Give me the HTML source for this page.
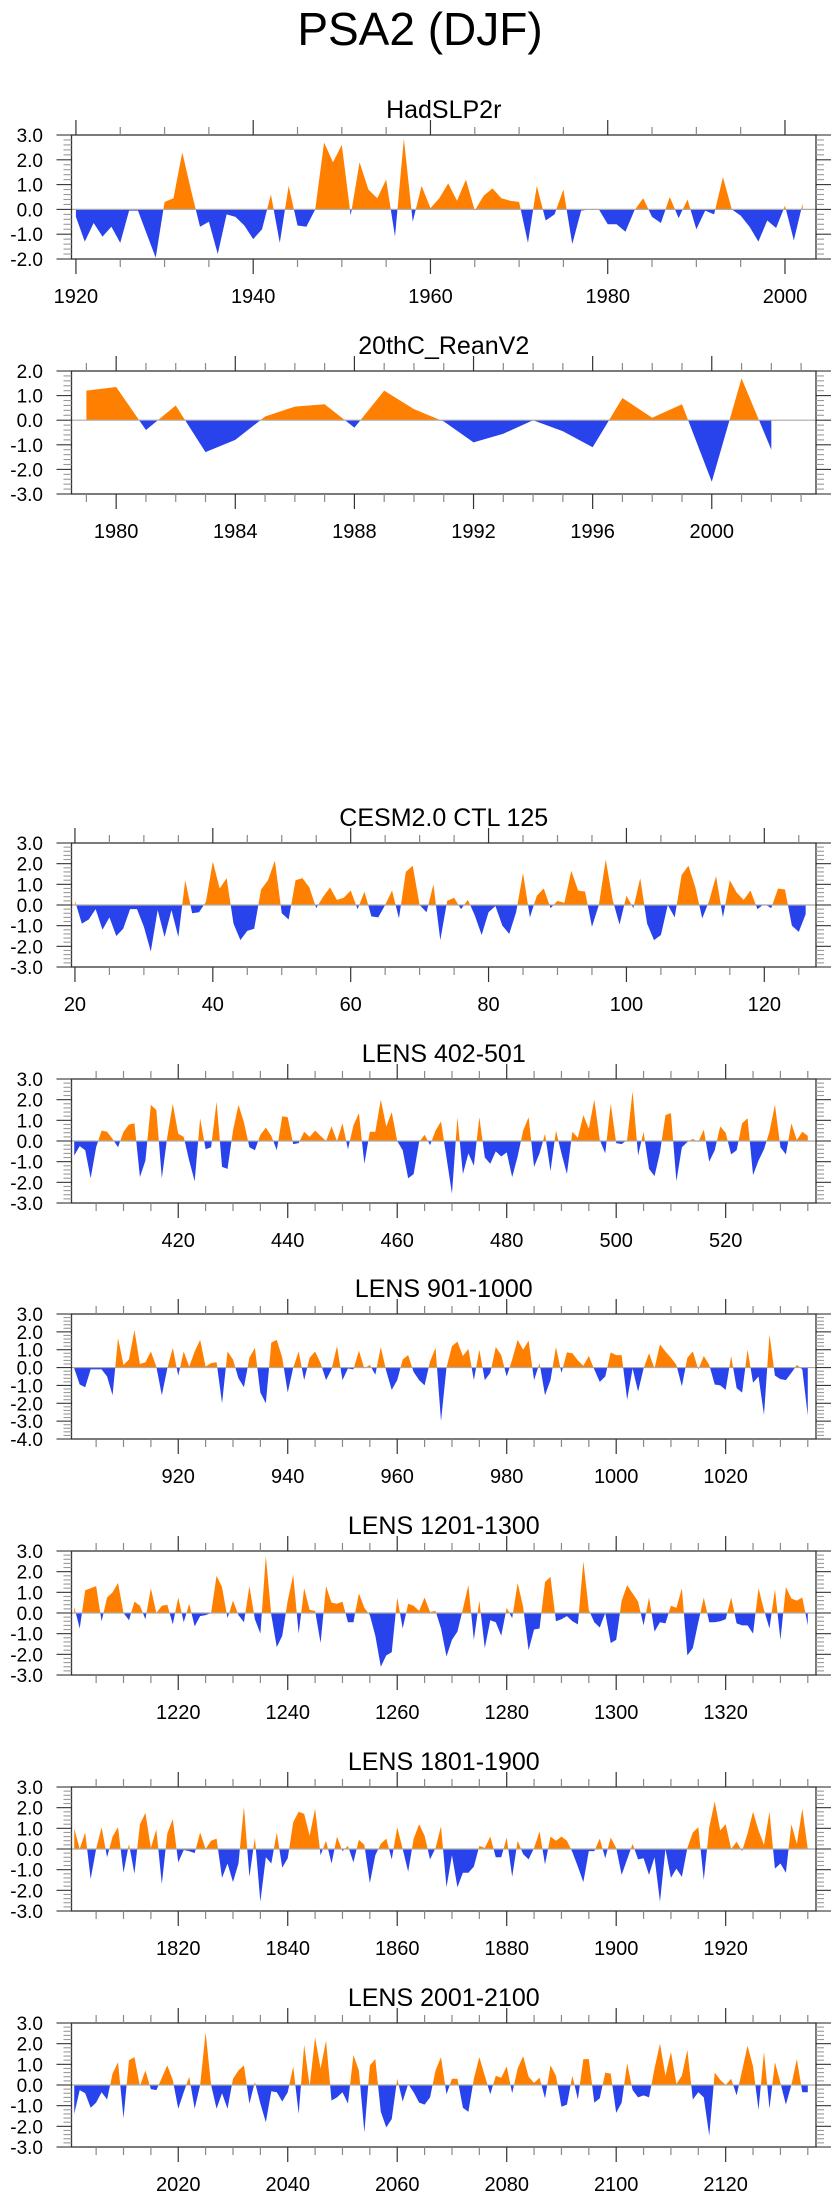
<!DOCTYPE html>
<html><head><meta charset="utf-8"><style>
html,body{margin:0;padding:0;background:#fff;}
svg{display:block;font-family:"Liberation Sans",Arial,sans-serif;}
</style></head><body>
<svg id="chart" width="840" height="2200" viewBox="0 0 840 2200" xmlns="http://www.w3.org/2000/svg">
<text x="420" y="45" text-anchor="middle" font-size="46">PSA2 (DJF)</text>
</svg>
<script>
const hadslpYears=[1920,2002];
const hadslpValues=[-0.3,-1.3,-0.55,-1.1,-0.7,-1.35,-0.05,-0.05,-1.0,-1.95,0.3,0.45,2.3,0.75,-0.7,-0.5,-1.8,-0.2,-0.3,-0.65,-1.2,-0.8,0.6,-1.35,0.95,-0.65,-0.7,0.0,2.7,1.9,2.6,-0.25,1.9,0.8,0.45,1.2,-1.1,2.85,-0.5,0.95,0.05,0.45,1.05,0.35,1.2,-0.05,0.55,0.85,0.45,0.35,0.3,-1.35,0.95,-0.45,-0.2,0.8,-1.4,-0.05,0,0,-0.6,-0.6,-0.9,-0.05,0.45,-0.3,-0.55,0.5,-0.35,0.4,-0.8,-0.05,-0.2,1.3,0,-0.25,-0.7,-1.3,-0.45,-0.75,0.15,-1.25,0.25];
const reanYears=[1979,2002];
const reanValues=[1.2,1.35,-0.4,0.6,-1.3,-0.8,0.15,0.55,0.65,-0.3,1.2,0.45,-0.05,-0.9,-0.55,0,-0.45,-1.1,0.9,0.1,0.65,-2.5,1.7,-1.2];
const cesmYears=[20,126];
const cesmValues=[0.2,-0.9,-0.7,-0.2,-1.2,-0.6,-1.5,-1.15,-0.2,-0.2,-1.05,-2.25,-0.25,-1.55,-0.25,-1.55,1.2,-0.4,-0.35,0.15,2.1,0.8,1.3,-0.9,-1.7,-1.25,-1.15,0.75,1.2,2.15,-0.4,-0.7,1.2,1.3,0.85,-0.15,0.4,0.85,0.25,0.35,0.7,-0.2,0.65,-0.55,-0.6,0,0.7,-0.65,1.6,1.9,0,-0.35,1.0,-1.7,0.2,0.35,-0.2,0.25,-0.5,-1.45,-0.35,-0.05,-1.0,-1.4,-0.35,1.55,-0.6,0.45,0.8,-0.15,0.2,0.1,1.65,0.7,0.65,-1.05,0,2.2,0.25,-0.95,0.45,-0.15,1.3,-0.9,-1.7,-1.45,0,-0.6,1.45,1.9,0.85,-0.65,0.2,1.4,-0.6,1.2,0.6,0.25,0.7,-0.2,0.05,-0.15,0.8,0.75,-1.0,-1.3,-0.45];
const lens402Years=[401,535];
const lens402Values=[-0.7,-0.25,-0.45,-1.8,-0.3,0.5,0.45,0.1,-0.3,0.45,0.8,0.85,-1.75,-0.95,1.75,1.5,-1.8,0.2,1.8,0.35,0.2,-0.95,-1.95,1.1,-0.4,-0.3,1.9,-1.25,-1.35,0.5,1.75,0.9,-0.3,-0.45,0.3,0.65,0.25,-0.45,1.2,1.15,-0.15,-0.1,0.45,0.2,0.5,0.25,0,0.7,0,0.85,-0.4,0.75,1.35,-1.1,0.45,0.45,2.0,0.7,1.4,0,-0.45,-1.8,-1.6,-0.05,0.3,-0.2,0.5,0.95,-0.8,-2.55,1.15,-1.6,-0.6,-1.2,1.15,-0.8,-1.1,-0.5,-0.75,-0.55,-1.75,-0.75,0.5,1.15,-1.25,-0.6,0.35,-1.45,0.5,-0.6,-1.6,0.45,0.15,1.25,0.6,2.0,0.05,-0.6,1.8,-0.1,-0.15,0.05,2.4,-0.7,0.45,-1.35,-1.7,-0.55,1.25,1.35,-1.95,-0.3,-0.05,0.1,-0.05,0.55,-1.0,-0.45,0.7,0.4,-0.65,-0.45,0.85,1.1,-1.65,-0.95,-0.4,0.45,1.75,-0.3,-0.65,0.85,0.05,0.45,0.25];
const lens901Years=[901,1035];
const lens901Values=[-0.05,-0.95,-1.1,-0.1,-0.1,-0.1,-0.5,-1.55,1.65,0.15,0.45,2.1,0.2,0.3,0.9,0.05,-1.55,-0.05,1.1,-0.45,0.9,0.05,0.9,1.55,0.05,0.25,0.3,-2.0,0.9,0.45,-0.6,-1.1,0.55,1.1,-1.4,-2.0,1.4,1.55,0.55,-1.4,0,0.9,-0.7,0.55,0.9,0.25,-0.7,-0.1,1.2,-0.7,-0.05,-0.1,0.95,-0.05,0.15,-0.4,1.15,-0.2,-1.25,-0.7,0.45,0.7,-0.25,-0.7,-1.0,0.35,1.1,-3.0,0,1.2,1.45,0.65,1.05,-0.7,1.0,-0.7,-0.3,1.15,0.7,-0.5,0.45,1.55,1.0,1.5,-0.7,0.25,-1.55,-0.7,1.15,-0.3,0.85,0.8,0.4,0.1,0.65,-0.1,-0.8,-0.5,0.85,0.7,0.7,-1.8,-0.05,-1.35,-0.05,0.8,-0.05,1.3,0.9,0.55,0.15,-1.05,0.55,0.9,-0.1,0.65,0.15,-0.95,-1.0,-1.25,0.65,-1.15,-1.4,1.0,-0.85,-0.5,-2.65,1.85,-0.45,-0.65,-0.7,-0.3,0.15,-0.1,-2.7];
const lens1201Years=[1201,1335];
const lens1201Values=[0.3,-0.75,1.1,1.2,1.3,-0.4,0.75,1.0,1.45,0,-0.35,0.55,0.35,-0.3,1.2,0,0.35,0.4,-0.55,0.75,-0.45,0.45,-0.65,-0.15,-0.1,0,1.8,1.25,-0.25,0.6,-0.1,-0.45,1.3,-0.3,-1.0,2.75,-0.1,-1.65,-1.1,0.6,1.85,-1.0,1.2,0.15,0.1,-1.45,1.3,0.5,0.45,0.55,-0.45,-0.45,0.95,0.25,-0.1,-1.1,-2.6,-2.05,-1.9,0.75,-0.75,0.45,0.35,0.1,0.75,0.05,0.1,-0.75,-2.1,-1.3,-0.9,0.2,1.35,-1.3,0.6,-1.7,-0.35,-0.45,-1.1,0.25,-0.25,1.45,0.3,-1.8,-0.8,-0.75,1.5,1.75,-0.4,-0.3,-0.15,-0.4,-0.55,2.5,0.15,-0.45,-0.7,0,-1.45,-1.3,0.6,1.35,0.95,0.55,-0.6,0.75,-0.9,-0.45,-0.5,0.35,0.25,1.2,-2.05,-1.7,-0.45,0.75,-0.45,-0.45,-0.4,-0.3,0.75,-0.5,-0.6,-0.6,-1.0,1.2,0.15,-0.75,1.15,-1.3,1.25,0.7,0.6,0.75,-0.6];
const lens1801Years=[1801,1935];
const lens1801Values=[1.0,0,0.8,-1.45,0,1.05,-0.4,0.6,1.05,-1.15,0.25,-1.2,1.2,1.75,0.05,0.95,-1.7,0.75,1.45,-0.65,-0.05,-0.1,-0.2,0.8,0,0.4,0.5,-1.4,-0.7,-1.6,-0.7,2.05,-1.35,0.55,-2.55,-0.4,-0.7,0.8,-0.9,-0.45,1.3,1.8,1.7,0.65,1.95,-0.3,0.4,-0.7,0.6,-0.1,0.15,-0.65,0.45,0.2,-1.65,-0.3,0.25,0.5,-0.5,1.05,0,-1.1,0.5,1.2,0.65,-0.5,0.05,1.1,-1.85,-0.3,-1.85,-1.15,-1.15,-0.85,0.15,0.05,0.6,-0.4,-0.4,0.55,-1.35,0.4,-0.25,-0.5,0.05,0.85,-0.75,0.6,0.4,0.6,0.4,-0.15,-0.85,-1.6,-0.1,-0.1,0.5,-0.45,0.55,0.05,-1.25,-0.5,0.25,-0.5,-0.45,-1.25,-0.4,-2.55,0,-1.4,-0.95,-1.35,0.05,0.8,1.05,-1.5,1.05,2.3,0.9,1.2,0,0.35,-0.1,0.75,1.8,0.9,0.2,1.8,-0.95,-0.7,-1.15,1.2,0.25,1.95,0];
const lens2001Years=[2001,2135];
const lens2001Values=[-1.4,-0.25,-0.4,-1.1,-0.85,-0.35,-0.7,0.55,1.1,-1.6,1.2,1.35,-0.05,0.7,-0.2,-0.25,0.35,0.95,0.25,-1.15,-0.35,0.4,-1.15,0,2.55,0,-1.15,-0.4,-1.15,0.3,0.7,0.95,-0.9,0.15,-0.9,-1.8,-0.3,-0.35,-0.8,-0.35,0.9,-1.4,1.95,-0.05,2.3,0.8,2.15,-0.75,-0.6,-0.35,-0.9,1.45,0.7,-2.3,0.95,1.25,-1.3,-2.05,-1.65,0.3,-0.8,0.05,-0.35,-0.85,-0.95,-0.6,0.7,1.35,-0.45,0.3,0.3,-1.1,-1.3,0.3,1.35,0.45,-0.45,0.45,0.35,0.9,-0.4,0.8,1.4,0.4,0.1,0.35,-0.65,0.95,0.45,-1.05,-0.95,0.45,-0.7,1.25,1.25,-0.85,-0.65,0.6,0.55,-1.35,-0.85,1.05,-0.25,-0.6,-0.5,-0.6,0.8,2.0,0.45,1.6,0.05,0.45,1.7,-0.7,-0.35,-0.6,-2.45,0.6,0.25,0,0.3,-0.5,0.7,1.9,0.9,-1.2,1.6,-1.15,1.1,0.1,-0.95,0,1.25,-0.35,-0.35];

const NS='http://www.w3.org/2000/svg';
const svg=document.getElementById('chart');
const BL=71.5,BR=816;
const panels=[
 {name:'hadslp2r',title:'HadSLP2r',top:135,bot:259,x0:1919.5,x1:2003.5,y0:-2,y1:3,years:hadslpYears,vals:hadslpValues,major:20,minor:5,mfirst:1920},
 {name:'20thc-reanv2',title:'20thC_ReanV2',top:371,bot:494,x0:1978.5,x1:2003.5,y0:-3,y1:2,years:reanYears,vals:reanValues,major:4,minor:1,mfirst:1980},
 {name:'cesm2-ctl',title:'CESM2.0 CTL 125',top:843,bot:967,x0:19.5,x1:127.5,y0:-3,y1:3,years:cesmYears,vals:cesmValues,major:20,minor:5,mfirst:20},
 {name:'lens-402-501',title:'LENS 402-501',top:1079,bot:1203,x0:400.5,x1:536.5,y0:-3,y1:3,years:lens402Years,vals:lens402Values,major:20,minor:5,mfirst:420},
 {name:'lens-901-1000',title:'LENS 901-1000',top:1314,bot:1439,x0:900.5,x1:1036.5,y0:-4,y1:3,years:lens901Years,vals:lens901Values,major:20,minor:5,mfirst:920},
 {name:'lens-1201-1300',title:'LENS 1201-1300',top:1551,bot:1675,x0:1200.5,x1:1336.5,y0:-3,y1:3,years:lens1201Years,vals:lens1201Values,major:20,minor:5,mfirst:1220},
 {name:'lens-1801-1900',title:'LENS 1801-1900',top:1787,bot:1911,x0:1800.5,x1:1936.5,y0:-3,y1:3,years:lens1801Years,vals:lens1801Values,major:20,minor:5,mfirst:1820},
 {name:'lens-2001-2100',title:'LENS 2001-2100',top:2023,bot:2147,x0:2000.5,x1:2136.5,y0:-3,y1:3,years:lens2001Years,vals:lens2001Values,major:20,minor:5,mfirst:2020}
];
function mk(tag,attrs,parent){const e=document.createElementNS(NS,tag);for(const k in attrs)e.setAttribute(k,attrs[k]);(parent||svg).appendChild(e);return e;}
panels.forEach(p=>{
 const g=mk('g',{});
 
 
 const X=v=>BL+(v-p.x0)/(p.x1-p.x0)*(BR-BL);
 const Y=v=>p.bot-(v-p.y0)/(p.y1-p.y0)*(p.bot-p.top);
 const t=mk('text',{x:(BL+BR)/2,y:p.top-17,'text-anchor':'middle','font-size':25},g);
 t.textContent=p.title;
 
 
 const pts=[];
 for(let i=0;i<p.vals.length;i++){
  const yr=p.years[0]+i,v=p.vals[i];
  if(i>0){const pv=p.vals[i-1];if((pv>0&&v<0)||(pv<0&&v>0)){const f=pv/(pv-v);pts.push([yr-1+f,0]);}}
  pts.push([yr,v]);
 }
 const first=pts[0][0],last=pts[pts.length-1][0];
 function poly(fn,color,nm){
  let d='M'+X(first)+','+Y(0);
  pts.forEach(q=>{d+=' L'+X(q[0]).toFixed(2)+','+Y(fn(q[1])).toFixed(2);});
  d+=' L'+X(last)+','+Y(0)+' Z';
  const e=mk('path',{d:d,fill:color,stroke:'none'},g);
  
  
 }
 poly(v=>Math.max(v,0),'#ff8000','positive-area');
 poly(v=>Math.min(v,0),'#2843ec','negative-area');
 const zl=mk('line',{x1:BL,x2:BR,y1:Y(0),y2:Y(0),stroke:'#aaaaaa','stroke-width':1.2},g);
 
 
 const box=mk('rect',{x:BL,y:p.top,width:BR-BL,height:p.bot-p.top,fill:'none',stroke:'#333','stroke-width':1.3},g);
 
 
 for(let v=Math.ceil(p.x0/p.minor)*p.minor;v<=p.x1;v+=p.minor){
  const isMaj=((v-p.mfirst)%p.major===0);
  const L=isMaj?15:8,x=X(v);
  mk('line',{x1:x,x2:x,y1:p.top,y2:p.top-L,stroke:isMaj?'#333':'#888','stroke-width':1.2},g);
  mk('line',{x1:x,x2:x,y1:p.bot,y2:p.bot+L,stroke:isMaj?'#333':'#888','stroke-width':1.2},g);
  if(isMaj){
   const tl=mk('text',{x:x,y:p.bot+44,'text-anchor':'middle','font-size':20},g);
   tl.textContent=String(v);
   
   
  }
 }
 for(let k=0;k<=(p.y1-p.y0)*5;k++){
  const v=p.y0+k*0.2,isMaj=(k%5===0),L=isMaj?15:8,y=Y(v);
  mk('line',{x1:BL,x2:BL-L,y1:y,y2:y,stroke:isMaj?'#333':'#999','stroke-width':1.1},g);
  mk('line',{x1:BR,x2:BR+L,y1:y,y2:y,stroke:isMaj?'#333':'#999','stroke-width':1.1},g);
  if(isMaj){
   const yl=mk('text',{x:43,y:y+7,'text-anchor':'end','font-size':19},g);
   yl.textContent=(Math.round(v*10)/10).toFixed(1);
   
   
  }
 }
});
</script>
</body></html>
